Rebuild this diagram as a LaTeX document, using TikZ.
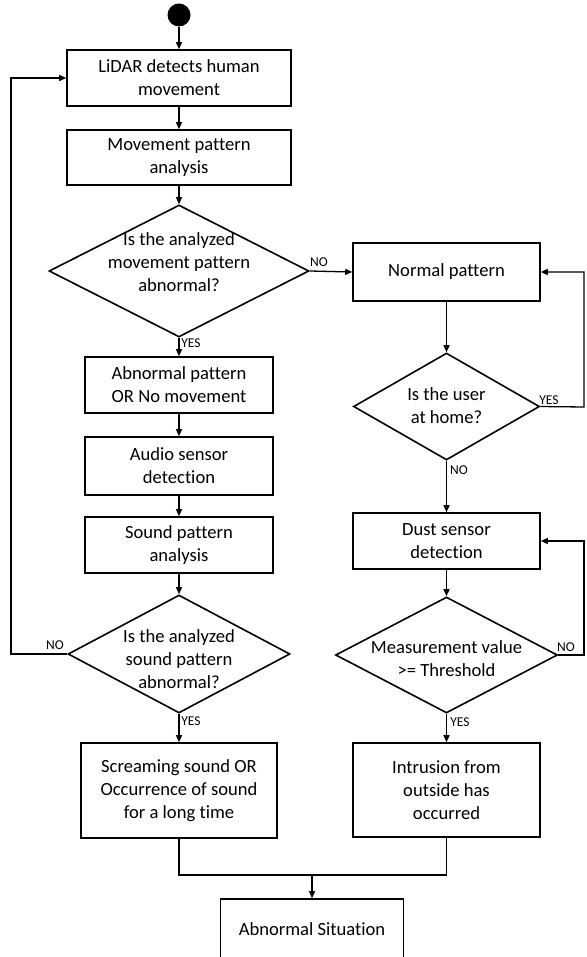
\documentclass[tikz,border=0pt]{standalone}
\usepackage{fontspec}
\setmainfont{Carlito}[Ligatures=NoCommon]
\usetikzlibrary{shapes.geometric,arrows.meta}
\newcommand\mainf{\fontsize{18.6}{23}\selectfont}
\newcommand\lblf{\fontsize{13.5}{15}\selectfont}
\begin{document}
\begin{tikzpicture}[x=1pt,y=-1pt,
  box/.style={draw, line width=1.6pt, inner sep=0pt, align=center, font=\mainf},
  dia/.style={draw, diamond, line width=1.6pt, inner sep=0pt},
  dtxt/.style={inner sep=0pt, align=center, font=\mainf},
  lbl/.style={inner sep=0pt, font=\lblf},
  arr/.style={-{Triangle[length=7pt,width=6pt]}, line width=1.3pt},
  ln/.style={line width=1.3pt}]
\useasboundingbox (0,0) rectangle (586,957);
% left column
\node[circle, fill, minimum size=23pt, inner sep=0pt] (start) at (179,15) {};
\node[box, minimum width=224pt, minimum height=56pt] (lidar) at (179,78) {LiDAR detects human\\movement};
\node[box, minimum width=224pt, minimum height=55pt] (mpa) at (179,157.5) {Movement pattern\\analysis};
\node[dia, minimum width=260pt, minimum height=132pt] (d1) at (179,271) {};
\node[dtxt] (d1t) at (179,262) {Is the analyzed\\movement pattern\\abnormal?};
\node[box, minimum width=188pt, minimum height=56pt] (abn) at (179,385) {Abnormal pattern\\OR No movement};
\node[box, minimum width=188pt, minimum height=58pt] (audio) at (179,466) {Audio sensor\\detection};
\node[box, minimum width=188pt, minimum height=56pt] (sound) at (179,545) {Sound pattern\\analysis};
\node[dia, minimum width=222pt, minimum height=118pt] (d2) at (179,654) {};
\node[dtxt] (d2t) at (179,659) {Is the analyzed\\sound pattern\\abnormal?};
\node[box, minimum width=196pt, minimum height=95pt] (scream) at (179,790.5) {Screaming sound OR\\Occurrence of sound\\for a long time};
% right column
\node[box, minimum width=187pt, minimum height=58pt] (normal) at (446.5,272) {Normal pattern};
\node[dia, minimum width=186pt, minimum height=107pt] (d3) at (446.5,406.5) {};
\node[dtxt] (d3t) at (446.5,406) {Is the user\\at home?};
\node[box, minimum width=187pt, minimum height=56pt] (dust) at (446.5,541) {Dust sensor\\detection};
\node[dia, minimum width=222pt, minimum height=116pt] (d4) at (446.5,655) {};
\node[dtxt] (d4t) at (446.5,659) {Measurement value\\>= Threshold};
\node[box, minimum width=187pt, minimum height=94pt] (intr) at (446.5,790) {Intrusion from\\outside has\\occurred};
\node[box, minimum width=183pt, minimum height=60pt] (sit) at (312,929) {Abnormal Situation};
% labels
\node[lbl] (l1) at (319,262) {NO};
\node[lbl] (l2) at (191,343) {YES};
\node[lbl] (l3) at (55,645) {NO};
\node[lbl] (l4) at (191,721) {YES};
\node[lbl] (l5) at (549,400) {YES};
\node[lbl] (l6) at (459,470) {NO};
\node[lbl] (l7) at (566,647) {NO};
\node[lbl] (l8) at (460,722) {YES};
% coordinates
\coordinate (cl) at (11,654);
\coordinate (cr1) at (584,407);
\coordinate (cr2) at (584,655);
\coordinate (cm) at (312,875);
% connectors
\draw[arr] (start.south) -- (lidar.north);
\draw[arr] (lidar.south) -- (mpa.north);
\draw[arr] (mpa.south) -- (d1.north);
\draw[arr] (d1.south) -- (abn.north);
\draw[arr] (abn.south) -- (audio.north);
\draw[arr] (audio.south) -- (sound.north);
\draw[arr] (sound.south) -- (d2.north);
\draw[arr] (d2.south) -- (scream.north);
\draw[arr] (d2.west) -- (cl) |- (lidar.west);
\draw[arr] (d1.east) -- (normal.west);
\draw[arr] (normal.south) -- (d3.north);
\draw[arr] (d3.east) -- (cr1) |- (normal.east);
\draw[arr] (d3.south) -- (dust.north);
\draw[arr] (dust.south) -- (d4.north);
\draw[arr] (d4.east) -- (cr2) |- (dust.east);
\draw[arr] (d4.south) -- (intr.north);
\draw[ln] (scream.south) -- (scream.south |- cm) -- (intr.south |- cm) -- (intr.south);
\draw[arr] (cm) -- (sit.north);
\end{tikzpicture}
\end{document}
